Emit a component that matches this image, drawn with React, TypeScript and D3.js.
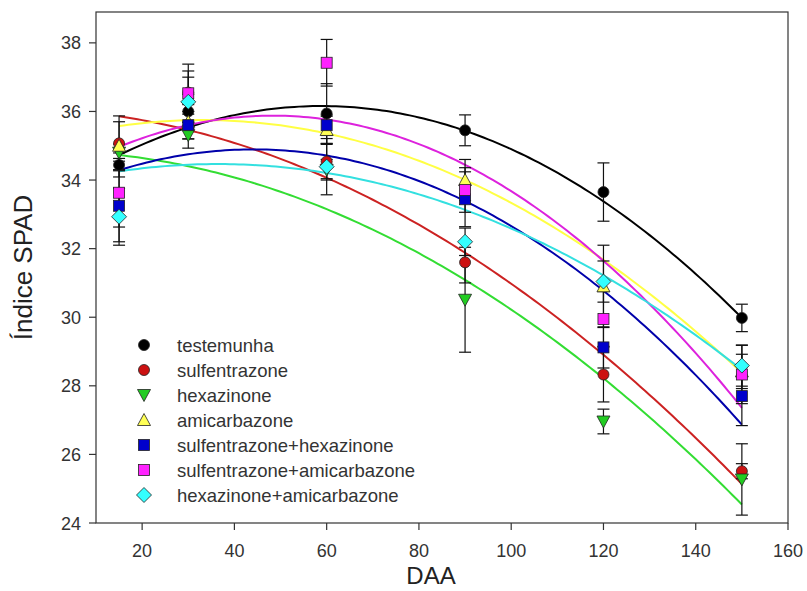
import React from "react";
import * as d3 from "d3";

// sampling days (DAA)
const days = [15, 30, 60, 90, 120, 150];

const seriesNames = [
  "testemunha",
  "sulfentrazone",
  "hexazinone",
  "amicarbazone",
  "sulfentrazone+hexazinone",
  "sulfentrazone+amicarbazone",
  "hexazinone+amicarbazone",
];

// mean SPAD values, one row per treatment
const testemunha = [34.44, 36.0, 35.94, 35.45, 33.65, 29.98];
const sulfentrazone = [35.07, 36.55, 34.54, 31.6, 28.33, 25.51];
const hexazinone = [34.8, 35.31, 34.3, 30.51, 26.96, 25.27];
const amicarbazone = [35.0, 35.7, 35.46, 34.0, 30.9, 28.42];
const sulfHexa = [33.25, 35.6, 35.6, 33.44, 29.12, 27.7];
const sulfAmic = [33.63, 36.53, 37.42, 33.71, 29.95, 28.33];
const hexaAmic = [32.93, 36.28, 34.39, 32.2, 31.04, 28.59];

// standard errors
const errTestemunha = [0.35, 0.5, 0.87, 0.45, 0.85, 0.4];
const errSulfentrazone = [0.8, 0.63, 0.5, 0.6, 0.8, 0.22];
const errHexazinone = [0.25, 0.38, 0.3, 1.53, 0.36, 1.04];
const errAmicarbazone = [0.7, 0.5, 0.4, 0.6, 1.2, 0.5];
const errSulfHexa = [1.05, 0.4, 0.3, 0.8, 0.6, 0.86];
const errSulfAmic = [1.0, 0.85, 0.68, 0.65, 0.8, 0.85];
const errHexaAmic = [0.83, 0.72, 0.82, 0.4, 0.6, 0.6];

// quadratic regression y = a + b*x + c*x^2 for each treatment
const fitA = [33.58, 36.06, 34.85, 35.16, 33.5, 33.96, 33.85];
const fitB = [0.0876, -0.00684, -0.00138, 0.03564, 0.06318, 0.07945, 0.03386];
const fitC = [-0.000744, -0.00044, -0.000449, -0.000539, -0.000716, -0.000823, -0.000465];

const xTicks = [20, 40, 60, 80, 100, 120, 140, 160];
const yTicks = [24, 26, 28, 30, 32, 34, 36, 38];

const means = [testemunha, sulfentrazone, hexazinone, amicarbazone, sulfHexa, sulfAmic, hexaAmic];
const errors = [errTestemunha, errSulfentrazone, errHexazinone, errAmicarbazone, errSulfHexa, errSulfAmic, errHexaAmic];

const fills = ["#000000", "#cc1111", "#22cc22", "#ffff55", "#0000cc", "#ff22ff", "#33ffff"];
const lineColors = ["#000000", "#cc2222", "#33dd33", "#ffff44", "#0000aa", "#dd22dd", "#33e0e0"];
const shapes = ["circle", "circle", "down", "up", "square", "square", "diamond"];

const W = 807;
const H = 591;
const left = 96, right = 788, top = 12, bottom = 523;
const font = "'Liberation Sans', Arial, sans-serif";

function Marker({ shape, x, y, fill }: { shape: string; x: number; y: number; fill: string }) {
  const st = { fill, stroke: "#222", strokeWidth: 0.8 };
  if (shape === "circle") return <circle cx={x} cy={y} r={5.5} {...st} />;
  if (shape === "square") return <rect x={x - 5.5} y={y - 5.5} width={11} height={11} {...st} />;
  if (shape === "up") return <path d={`M${x},${y - 6.5}L${x + 6.5},${y + 5.5}L${x - 6.5},${y + 5.5}Z`} {...st} />;
  if (shape === "down") return <path d={`M${x},${y + 6.5}L${x + 6.5},${y - 5.5}L${x - 6.5},${y - 5.5}Z`} {...st} />;
  return <path d={`M${x},${y - 7.5}L${x + 7.5},${y}L${x},${y + 7.5}L${x - 7.5},${y}Z`} {...st} />;
}

export default function App() {
  const x = d3.scaleLinear().domain([10, 160]).range([left, right]);
  const y = d3.scaleLinear().domain([24, 38.9]).range([bottom, top]);
  const curveX = d3.range(15, 150.5, 1);
  const line = d3.line<number[]>().x((d) => x(d[0])).y((d) => y(d[1]));

  return (
    <svg width={W} height={H} style={{ display: "block", position: "absolute", left: 0, top: 0, background: "#fff" }}>
      <rect x={0} y={0} width={W} height={H} fill="#fff" />
      {/* regression curves */}
      {seriesNames.map((n, i) => (
        <path
          key={"c" + n}
          d={line(curveX.map((t) => [t, fitA[i] + fitB[i] * t + fitC[i] * t * t])) || ""}
          fill="none"
          stroke={lineColors[i]}
          strokeWidth={2}
        />
      ))}
      {/* error bars */}
      {means.map((row, i) =>
        row.map((v, j) => {
          const cx = x(days[j]);
          const y1 = y(v + errors[i][j]);
          const y2 = y(v - errors[i][j]);
          return (
            <g key={`e${i}-${j}`} stroke="#111" strokeWidth={1.2}>
              <line x1={cx} x2={cx} y1={y1} y2={y2} />
              <line x1={cx - 6} x2={cx + 6} y1={y1} y2={y1} />
              <line x1={cx - 6} x2={cx + 6} y1={y2} y2={y2} />
            </g>
          );
        })
      )}
      {/* points */}
      {means.map((row, i) =>
        row.map((v, j) => <Marker key={`p${i}-${j}`} shape={shapes[i]} x={x(days[j])} y={y(v)} fill={fills[i]} />)
      )}
      {/* frame */}
      <rect x={left} y={top} width={right - left} height={bottom - top} fill="none" stroke="#333" strokeWidth={1.2} />
      {/* x axis */}
      {xTicks.map((t) => (
        <g key={"xt" + t}>
          <line x1={x(t)} x2={x(t)} y1={bottom} y2={bottom + 7} stroke="#333" strokeWidth={1.2} />
          <text x={x(t)} y={557} textAnchor="middle" fontFamily={font} fontSize={18} fill="#333">
            {t}
          </text>
        </g>
      ))}
      {/* y axis */}
      {yTicks.map((t) => (
        <g key={"yt" + t}>
          <line x1={left - 7} x2={left} y1={y(t)} y2={y(t)} stroke="#333" strokeWidth={1.2} />
          <text x={81} y={y(t) + 6.5} textAnchor="end" fontFamily={font} fontSize={18} fill="#333">
            {t}
          </text>
        </g>
      ))}
      <text x={431} y={584} textAnchor="middle" fontFamily={font} fontSize={24} fill="#222">
        DAA
      </text>
      <text
        transform={`translate(32,${(top + bottom) / 2}) rotate(-90)`}
        textAnchor="middle"
        fontFamily={font}
        fontSize={26}
        fill="#222"
      >
        Índice SPAD
      </text>
      {/* legend */}
      {seriesNames.map((n, i) => (
        <g key={"l" + n}>
          <Marker shape={shapes[i]} x={144} y={345 + i * 25} fill={fills[i]} />
          <text x={177} y={351.5 + i * 25} fontFamily={font} fontSize={18.5} fill="#333">
            {n}
          </text>
        </g>
      ))}
    </svg>
  );
}
